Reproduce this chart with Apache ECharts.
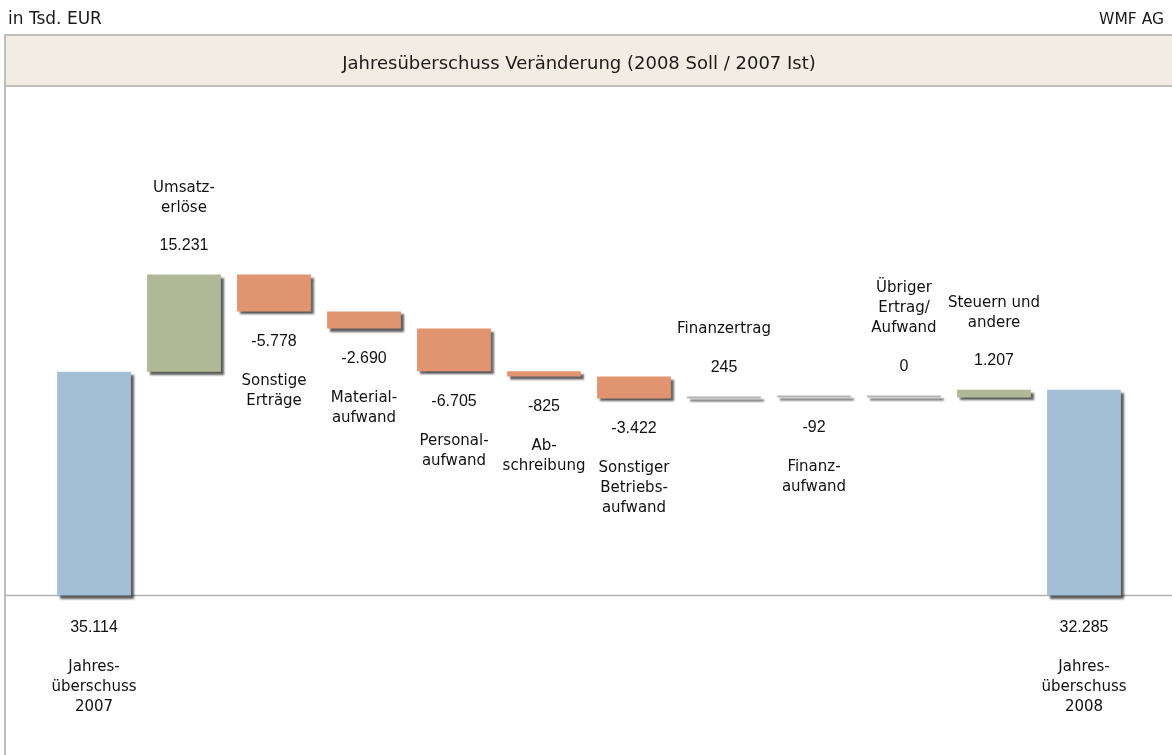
<!DOCTYPE html>
<html>
<head>
<meta charset="utf-8">
<script src="https://cdn.jsdelivr.net/npm/echarts@6/dist/echarts.min.js"></script>
<style>
html,body{margin:0;padding:0;background:#fff;}
#chart{width:1172px;height:755px;}
</style>
</head>
<body>
<div id="chart"></div>
<script>
// ---- data ----
var categories = [
  'Jahres-\nüberschuss\n2007', 'Umsatz-\nerlöse', 'Sonstige\nErträge', 'Material-\naufwand',
  'Personal-\naufwand', 'Ab-\nschreibung', 'Sonstiger\nBetriebs-\naufwand', 'Finanzertrag',
  'Finanz-\naufwand', 'Übriger\nErtrag/\nAufwand', 'Steuern und\nandere', 'Jahres-\nüberschuss\n2008'
];
var values = [35114, 15231, -5778, -2690, -6705, -825, -3422, 245, -92, 0, 1207, 32285];
var isTotal = [true, false, false, false, false, false, false, false, false, false, false, true];
var titleText = 'Jahresüberschuss Veränderung (2008 Soll / 2007 Ist)';
var unitText = 'in Tsd. EUR';
var companyText = 'WMF AG';

// ---- helpers ----
function fmt(v) {
  var s = String(Math.abs(v));
  var out = '';
  while (s.length > 3) { out = '.' + s.slice(-3) + out; s = s.slice(0, -3); }
  out = s + out;
  return (v < 0 ? '-' : '') + out;
}
var COL_TOTAL = '#A4BED6', COL_POS = '#B1B895', COL_NEG = '#E0946F', COL_SMALL = '#B3B3B3';

var baseData = [], barData = [];
var running = 0;
for (var i = 0; i < values.length; i++) {
  var v = values[i];
  var cat = categories[i].split('\n').map(function (l) { return '{c|' + l + '}'; }).join('\n');
  var base, h, color, label;
  if (isTotal[i]) {
    base = 0; h = v; running = v; color = COL_TOTAL;
    label = { position: 'bottom', distance: 22,
      formatter: '{v|' + fmt(v) + '}\n{s| }\n' + cat };
  } else {
    var start = running, end = running + v;
    base = Math.min(start, end); h = Math.abs(v); running = end;
    color = Math.abs(v) < 500 ? COL_SMALL : (v > 0 ? COL_POS : COL_NEG);
    if (v < 0) {
      label = { position: 'bottom', distance: 20,
        formatter: '{v|' + fmt(v) + '}\n{s| }\n' + cat };
    } else {
      label = { position: 'top', distance: 19,
        formatter: cat + '\n{t| }\n{v|' + fmt(v) + '}' };
    }
  }
  baseData.push(base);
  barData.push({ value: h, itemStyle: { color: color }, label: label });
}

var chart = echarts.init(document.getElementById('chart'), null, { renderer: 'canvas' });
var option = {
  animation: false,
  backgroundColor: '#ffffff',
  title: [
    { text: titleText, left: 574, top: 50, textAlign: 'center',
      textStyle: { fontFamily: 'DejaVu Sans', fontSize: 18, fontWeight: 'normal', color: '#1a1a1a' } },
    { text: unitText, left: 3, top: 6,
      textStyle: { fontFamily: 'DejaVu Sans', fontSize: 17, fontWeight: 'normal', color: '#1a1a1a' } },
    { text: companyText, right: 3, top: 7,
      textStyle: { fontFamily: 'DejaVu Sans', fontSize: 15.5, fontWeight: 'normal', color: '#1a1a1a' } }
  ],
  grid: { left: 49, right: 43, top: 85.6, bottom: 159.5 },
  xAxis: {
    type: 'category', data: categories,
    axisLine: { show: false }, axisTick: { show: false }, axisLabel: { show: false },
    splitLine: { show: false }
  },
  yAxis: {
    type: 'value', min: 0, max: 80000,
    show: false, splitLine: { show: false }
  },
  series: [
    { type: 'bar', stack: 'w', data: baseData, barWidth: '82%',
      itemStyle: { color: 'transparent' }, silent: true, label: { show: false } },
    { type: 'bar', stack: 'w', data: barData, barWidth: '82%', barMinHeight: 2,
      itemStyle: { shadowColor: 'rgba(40,40,40,0.75)', shadowBlur: 2, shadowOffsetX: 3, shadowOffsetY: 3 },
      label: {
        show: true, align: 'center',
        rich: {
          v: { fontFamily: 'Liberation Sans', fontSize: 16, lineHeight: 20, color: '#111' },
          c: { fontFamily: 'DejaVu Sans', fontSize: 15, lineHeight: 20, color: '#111', align: 'center' },
          s: { fontSize: 10, lineHeight: 20 },
          t: { fontSize: 10, lineHeight: 18 }
        }
      }
    }
  ]
};
chart.setOption(option);

var baseY = chart.convertToPixel({ yAxisIndex: 0 }, 0);
chart.setOption({
  graphic: [
    { type: 'rect', z: -10, shape: { x: 5, y: 35, width: 1180, height: 51 },
      style: { fill: '#F3ECE2', stroke: '#BEBEBE', lineWidth: 2 } },
    { type: 'line', z: -10, shape: { x1: 5, y1: 35, x2: 5, y2: 760 },
      style: { stroke: '#BEBEBE', lineWidth: 2 } },
    { type: 'line', z: -10, shape: { x1: 5, y1: baseY, x2: 1172, y2: baseY },
      style: { stroke: '#B0B0B0', lineWidth: 1.5 } }
  ]
});
</script>
</body>
</html>
